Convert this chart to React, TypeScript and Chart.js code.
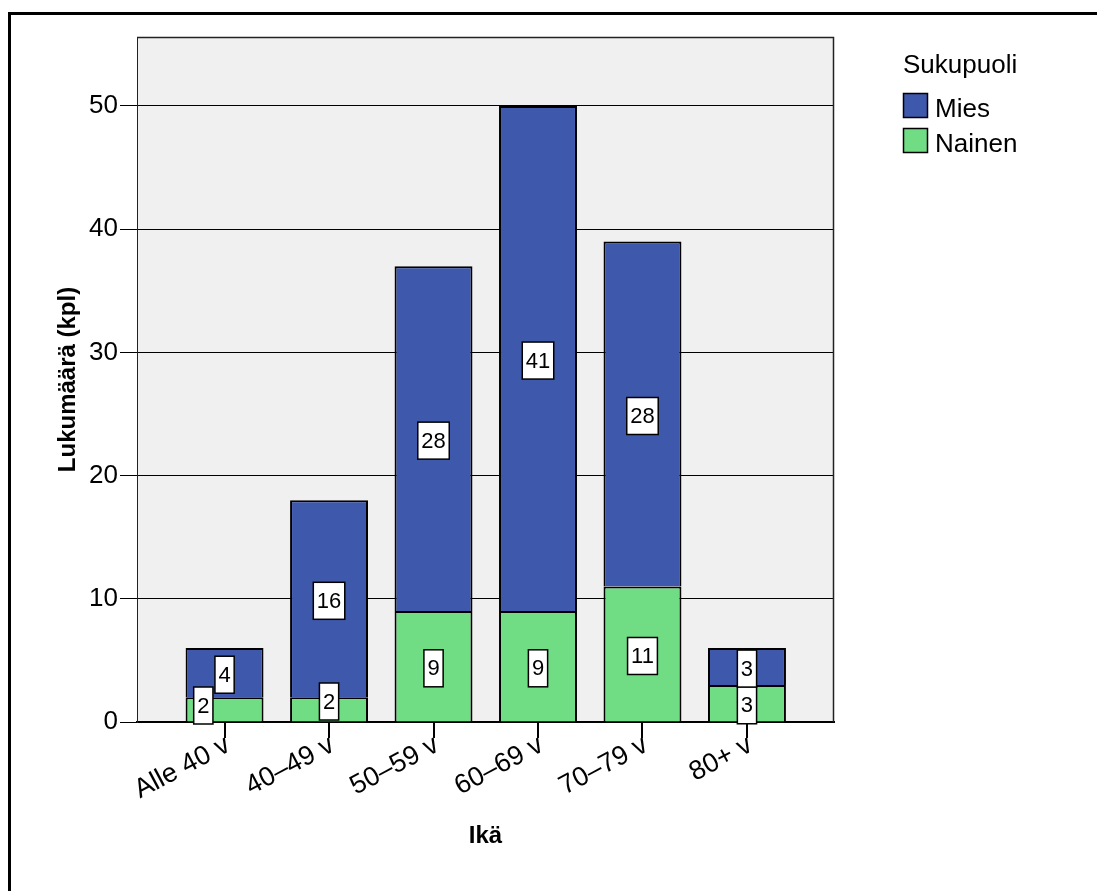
import { useEffect, useRef } from "react";
import { Chart, registerables } from "chart.js";

Chart.register(...registerables);

// Age groups on the horizontal axis
const ageGroups = ["Alle 40 v", "40–49 v", "50–59 v", "60–69 v", "70–79 v", "80+ v"];
// Counts per gender (stacked: Nainen at the bottom, Mies on top)
const naisetCounts = [2, 2, 9, 9, 11, 3];
const miehetCounts = [4, 16, 28, 41, 28, 3];
const seriesNames = ["Nainen", "Mies"];
const legendTitle = "Sukupuoli";
const yAxisTitle = "Lukumäärä (kpl)";
const xAxisTitle = "Ikä";
const yMax = 55.6;
const yStep = 10;

const FONT = "'Liberation Sans', Arial, Helvetica, sans-serif";
const BLUE = "#3e58ac";
const GREEN = "#70dc84";
const LABEL_ANGLE = (28 * Math.PI) / 180;

// Gray plot background and the outer frame
const backgroundPlugin = {
  id: "plotBackground",
  beforeDraw(chart: any) {
    const { ctx, chartArea } = chart;
    ctx.save();
    ctx.fillStyle = "#f0f0f0";
    ctx.fillRect(chartArea.left, chartArea.top, chartArea.right - chartArea.left, chartArea.bottom - chartArea.top);
    ctx.strokeStyle = "#000";
    ctx.lineWidth = 3;
    ctx.strokeRect(9.5, 13.5, 2000, 2000);
    ctx.restore();
  },
  beforeDatasetsDraw(chart: any) {
    const { ctx, chartArea } = chart;
    ctx.save();
    ctx.strokeStyle = "#222";
    ctx.lineWidth = 1.5;
    ctx.beginPath();
    ctx.moveTo(chartArea.left, chartArea.top + 0.5);
    ctx.lineTo(chartArea.right - 0.5, chartArea.top + 0.5);
    ctx.lineTo(chartArea.right - 0.5, chartArea.bottom);
    ctx.stroke();
    ctx.restore();
  },
};

// Rotated category labels hanging from the x-axis tick marks
const xLabelPlugin = {
  id: "rotatedXLabels",
  afterDraw(chart: any) {
    const { ctx } = chart;
    const xs = chart.scales.x;
    const axisY = xs.top;
    ctx.save();
    ctx.font = `27px ${FONT}`;
    ctx.fillStyle = "#000";
    ctx.textAlign = "right";
    ctx.textBaseline = "alphabetic";
    for (const t of xs.ticks) {
      const label = ageGroups[t.value];
      if (label === undefined) continue;
      const px = xs.getPixelForValue(t.value);
      ctx.save();
      ctx.translate(px + 7, axisY + 28);
      ctx.rotate(-LABEL_ANGLE);
      ctx.fillText(label, 0, 0);
      ctx.restore();
    }
    ctx.restore();
  },
};

// Boxed value labels in the middle of each stacked segment
const valueLabelPlugin = {
  id: "valueLabels",
  afterDatasetsDraw(chart: any) {
    const { ctx } = chart;
    const axisY = chart.scales.y.getPixelForValue(0);
    const h = 37;
    ctx.save();
    ctx.font = `22px ${FONT}`;
    const count = chart.data.datasets[0].data.length;
    for (let i = 0; i < count; i++) {
      const boxes: any[] = [];
      chart.data.datasets.forEach((ds: any, d: number) => {
        const el = chart.getDatasetMeta(d).data[i];
        const { x, y, base } = el.getProps(["x", "y", "base"], true);
        const text = String(ds.data[i].y);
        const w = ctx.measureText(text).width + 7;
        let top = (y + base) / 2 + 2 - h / 2;
        if (top + h > axisY + 3) top = axisY - 2 - h;
        boxes.push({ cx: x, top, w, text });
      });
      for (let k = 0; k < boxes.length - 1; k++) {
        const lower = boxes[k];
        const upper = boxes[k + 1];
        if (lower.top < upper.top + h - 3) {
          lower.cx = upper.cx - upper.w / 2 - 2 - lower.w / 2;
          lower.top += 4;
        }
      }
      for (const b of boxes) {
        const left = b.cx - b.w / 2;
        ctx.fillStyle = "#fff";
        ctx.fillRect(left, b.top, b.w, h);
        ctx.strokeStyle = "#000";
        ctx.lineWidth = 1.5;
        ctx.strokeRect(left, b.top, b.w, h);
        ctx.fillStyle = "#000";
        ctx.textAlign = "center";
        ctx.textBaseline = "middle";
        ctx.fillText(b.text, b.cx, b.top + h / 2 + 1);
      }
    }
    ctx.restore();
  },
};

// Legend at the right, top series first
const legendPlugin = {
  id: "sideLegend",
  afterDraw(chart: any) {
    const { ctx, chartArea } = chart;
    const x0 = chartArea.right + 69;
    ctx.save();
    ctx.font = `26px ${FONT}`;
    ctx.fillStyle = "#000";
    ctx.textAlign = "left";
    ctx.textBaseline = "alphabetic";
    ctx.fillText(legendTitle, x0, 73);
    const items = chart.data.datasets.map((ds: any) => ds).reverse();
    items.forEach((ds: any, k: number) => {
      const top = 93 + k * 35;
      ctx.fillStyle = ds.backgroundColor;
      ctx.fillRect(x0, top, 25, 25);
      ctx.strokeStyle = "#000";
      ctx.lineWidth = 1.5;
      ctx.strokeRect(x0 + 0.5, top + 0.5, 24, 24);
      ctx.fillStyle = "#000";
      ctx.fillText(ds.label, x0 + 32, top + 24);
    });
    ctx.restore();
  },
};

export default function App() {
  const canvasRef = useRef<HTMLCanvasElement | null>(null);

  useEffect(() => {
    if (!canvasRef.current) return;
    const chart = new Chart(canvasRef.current, {
      type: "bar",
      data: {
        datasets: [
          {
            label: seriesNames[0],
            data: naisetCounts.map((v, i) => ({ x: i, y: v })),
            backgroundColor: GREEN,
            borderColor: "#000",
            borderWidth: 2,
          },
          {
            label: seriesNames[1],
            data: miehetCounts.map((v, i) => ({ x: i, y: v })),
            backgroundColor: BLUE,
            borderColor: "#000",
            borderWidth: 2,
          },
        ],
      },
      options: {
        animation: false,
        responsive: false,
        devicePixelRatio: 1,
        layout: { padding: { left: 54, top: 37, right: 263, bottom: 40 } },
        datasets: { bar: { barPercentage: 0.746, categoryPercentage: 1 } },
        plugins: { legend: { display: false }, tooltip: { enabled: false } },
        scales: {
          x: {
            type: "linear",
            stacked: true,
            offset: false,
            min: -0.838,
            max: 5.833,
            ticks: {
              display: false,
              stepSize: 1,
              includeBounds: false,
              autoSkip: false,
            },
            grid: {
              offset: false,
              drawOnChartArea: false,
              drawTicks: true,
              tickLength: 16,
              color: "#000",
              lineWidth: 2,
            },
            border: { display: true, color: "#000", width: 2 },
            title: {
              display: true,
              text: xAxisTitle,
              color: "#000",
              padding: 0,
              font: { family: FONT, size: 24, weight: "bold" },
            },
            afterFit: (scale: any) => {
              scale.height = 129;
            },
          },
          y: {
            stacked: true,
            min: 0,
            max: yMax,
            ticks: {
              stepSize: yStep,
              includeBounds: false,
              color: "#000",
              padding: 2,
              font: { family: FONT, size: 26 },
            },
            grid: { color: "#000", lineWidth: 1, tickLength: 17, drawTicks: true },
            border: { display: true, color: "#222", width: 1 },
            title: {
              display: true,
              text: yAxisTitle,
              color: "#000",
              padding: 0,
              font: { family: FONT, size: 24, weight: "bold" },
            },
            afterFit: (scale: any) => {
              scale.width = 83;
            },
          },
        },
      } as any,
      plugins: [backgroundPlugin, xLabelPlugin, valueLabelPlugin, legendPlugin],
    });
    return () => chart.destroy();
  }, []);

  return (
    <canvas
      ref={canvasRef}
      width={1097}
      height={891}
      style={{ position: "fixed", left: 0, top: 0 }}
    />
  );
}
